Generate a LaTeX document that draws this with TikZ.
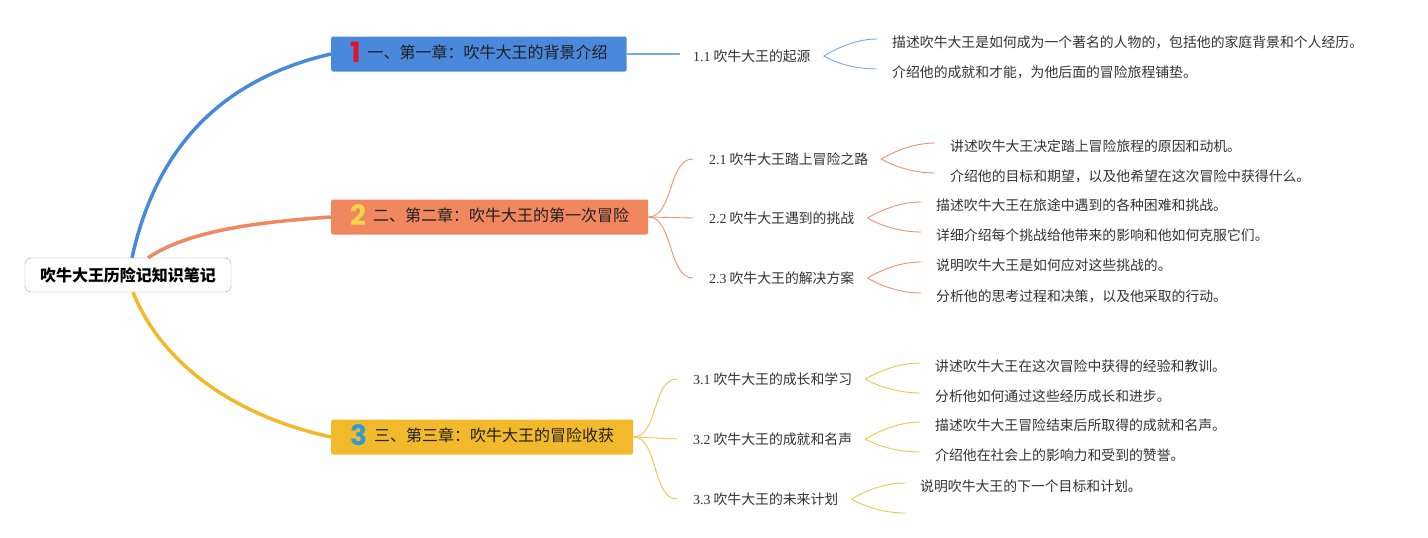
\documentclass[tikz,border=0pt]{standalone}
\usepackage{fontspec}
\setmainfont{Liberation Serif}
\newfontfamily\cjk{Noto Sans CJK SC}
\newfontfamily\numfont{Poppins}
\usetikzlibrary{positioning}
\definecolor{chblue}{HTML}{4A88DC}
\definecolor{chorange}{HTML}{F0875F}
\definecolor{chyellow}{HTML}{F2B92B}
\definecolor{twblue}{HTML}{7EA8E2}
\definecolor{tworange}{HTML}{F0926F}
\definecolor{twyellow}{HTML}{F3C44E}
\definecolor{noone}{HTML}{E0142B}
\definecolor{notwo}{HTML}{F7D445}
\definecolor{nothree}{HTML}{2E9AD6}
\newcommand\chno[2]{\raisebox{-4pt}{\numfont\bfseries\fontsize{28}{28}\selectfont\textcolor{#1}{#2}}\hspace{7pt}}
\newcommand\secno[1]{{\rmfamily #1}}
\tikzset{
  root/.style={draw=black!35,fill=white,rounded corners=6pt,inner xsep=15pt,minimum height=34pt,font=\cjk\bfseries\fontsize{16}{16}\selectfont},
  chap/.style={anchor=west,rounded corners=2pt,minimum height=35pt,inner xsep=19pt,inner ysep=0pt,text height=12pt,text depth=3pt,text=black!88,font=\cjk\fontsize{16}{16}\selectfont},
  sub/.style={anchor=west,inner sep=5pt,text=black!80,font=\cjk\fontsize{13.85}{14}\selectfont},
  leaf/.style={anchor=west,inner sep=0pt,text=black!80,font=\cjk\fontsize{13.85}{14}\selectfont},
  branch/.style={line width=3.5pt},
  twig/.style={line width=.9pt}
}
\begin{document}
\begin{tikzpicture}[x=1pt,y=-1pt]
  \useasboundingbox (0,0) rectangle (1428,538);
  \fill[white] (0,0) rectangle (1428,538);
  % main topic and chapters
  \node[root] (root) at (128,275) {吹牛大王历险记知识笔记};
  \node[chap,fill=chblue] (c1) at (331,54) {\chno{noone}{1}一、第一章：吹牛大王的背景介绍};
  \node[chap,fill=chorange] (c2) at (331,217) {\chno{notwo}{2}二、第二章：吹牛大王的第一次冒险};
  \node[chap,fill=chyellow] (c3) at (331,437) {\chno{nothree}{3}三、第三章：吹牛大王的冒险收获};
  \draw[branch,chblue] ([xshift=4pt]root.north) .. controls +(28,-128) and +(-91,21) .. (c1.west);
  \draw[branch,chorange] ([xshift=20pt]root.north) .. controls +(42,-28) and +(-71,5) .. (c2.west);
  \draw[branch,chyellow] ([xshift=5pt]root.south) .. controls +(27,68) and +(-101,-22) .. (c3.west);
  % sections
  \node[sub] (s11) at (688,56) {\secno{1.1} 吹牛大王的起源};
  \node[sub] (s21) at (704,159) {\secno{2.1} 吹牛大王踏上冒险之路};
  \node[sub] (s22) at (704,218) {\secno{2.2} 吹牛大王遇到的挑战};
  \node[sub] (s23) at (704,278) {\secno{2.3} 吹牛大王的解决方案};
  \node[sub] (s31) at (688,379) {\secno{3.1} 吹牛大王的成长和学习};
  \node[sub] (s32) at (688,439) {\secno{3.2} 吹牛大王的成就和名声};
  \node[sub] (s33) at (688,499) {\secno{3.3} 吹牛大王的未来计划};
  \draw[twig,twblue,line width=1.4pt] (c1.east) -- ([xshift=-8pt,yshift=2pt]s11.west);
  \draw[twig,tworange] (c2.east) .. controls +(25,0) and +(-25,0) .. ([xshift=-11pt]s21.west);
  \draw[twig,tworange] (c2.east) -- ([xshift=-11pt]s22.west);
  \draw[twig,tworange] (c2.east) .. controls +(25,0) and +(-25,0) .. ([xshift=-11pt]s23.west);
  \draw[twig,twyellow] (c3.east) .. controls +(25,0) and +(-25,0) .. ([xshift=-11pt]s31.west);
  \draw[twig,twyellow] (c3.east) -- ([xshift=-11pt]s32.west);
  \draw[twig,twyellow] (c3.east) .. controls +(25,0) and +(-25,0) .. ([xshift=-11pt]s33.west);
  % details
  \node[leaf] (l111) at (892,42) {描述吹牛大王是如何成为一个著名的人物的，包括他的家庭背景和个人经历。};
  \node[leaf] (l112) at (892,72) {介绍他的成就和才能，为他后面的冒险旅程铺垫。};
  \node[leaf] (l211) at (950,146) {讲述吹牛大王决定踏上冒险旅程的原因和动机。};
  \node[leaf] (l212) at (950,176) {介绍他的目标和期望，以及他希望在这次冒险中获得什么。};
  \node[leaf] (l221) at (936,205) {描述吹牛大王在旅途中遇到的各种困难和挑战。};
  \node[leaf] (l222) at (936,235) {详细介绍每个挑战给他带来的影响和他如何克服它们。};
  \node[leaf] (l231) at (936,265) {说明吹牛大王是如何应对这些挑战的。};
  \node[leaf] (l232) at (936,296) {分析他的思考过程和决策，以及他采取的行动。};
  \node[leaf] (l311) at (935,366) {讲述吹牛大王在这次冒险中获得的经验和教训。};
  \node[leaf] (l312) at (935,396) {分析他如何通过这些经历成长和进步。};
  \node[leaf] (l321) at (935,425) {描述吹牛大王冒险结束后所取得的成就和名声。};
  \node[leaf] (l322) at (935,455) {介绍他在社会上的影响力和受到的赞誉。};
  \node[leaf] (l331) at (920,486) {说明吹牛大王的下一个目标和计划。};
  \coordinate (l332) at (905,513);
  \draw[twig,twblue] ([xshift=8pt]s11.east) .. controls +(12,-7) and +(-22,0) .. ([xshift=-15pt,yshift=3pt]l111.west);
  \draw[twig,twblue] ([xshift=8pt]s11.east) .. controls +(12,7) and +(-22,0) .. ([xshift=-15pt,yshift=3pt]l112.west);
  \draw[twig,tworange] ([xshift=8pt]s21.east) .. controls +(12,-7) and +(-22,0) .. ([xshift=-15pt,yshift=3pt]l211.west);
  \draw[twig,tworange] ([xshift=8pt]s21.east) .. controls +(12,7) and +(-22,0) .. ([xshift=-15pt,yshift=3pt]l212.west);
  \draw[twig,tworange] ([xshift=8pt]s22.east) .. controls +(12,-7) and +(-22,0) .. ([xshift=-15pt,yshift=3pt]l221.west);
  \draw[twig,tworange] ([xshift=8pt]s22.east) .. controls +(12,7) and +(-22,0) .. ([xshift=-15pt,yshift=3pt]l222.west);
  \draw[twig,tworange] ([xshift=8pt]s23.east) .. controls +(12,-7) and +(-22,0) .. ([xshift=-15pt,yshift=3pt]l231.west);
  \draw[twig,tworange] ([xshift=8pt]s23.east) .. controls +(12,7) and +(-22,0) .. ([xshift=-15pt,yshift=3pt]l232.west);
  \draw[twig,twyellow] ([xshift=8pt]s31.east) .. controls +(12,-7) and +(-22,0) .. ([xshift=-15pt,yshift=3pt]l311.west);
  \draw[twig,twyellow] ([xshift=8pt]s31.east) .. controls +(12,7) and +(-22,0) .. ([xshift=-15pt,yshift=3pt]l312.west);
  \draw[twig,twyellow] ([xshift=8pt]s32.east) .. controls +(12,-7) and +(-22,0) .. ([xshift=-15pt,yshift=3pt]l321.west);
  \draw[twig,twyellow] ([xshift=8pt]s32.east) .. controls +(12,7) and +(-22,0) .. ([xshift=-15pt,yshift=3pt]l322.west);
  \draw[twig,twyellow] ([xshift=8pt]s33.east) .. controls +(12,-7) and +(-22,0) .. ([xshift=-15pt,yshift=3pt]l331.west);
  \draw[twig,twyellow] ([xshift=8pt]s33.east) .. controls +(12,7) and +(-22,0) .. (l332);
\end{tikzpicture}
\end{document}
